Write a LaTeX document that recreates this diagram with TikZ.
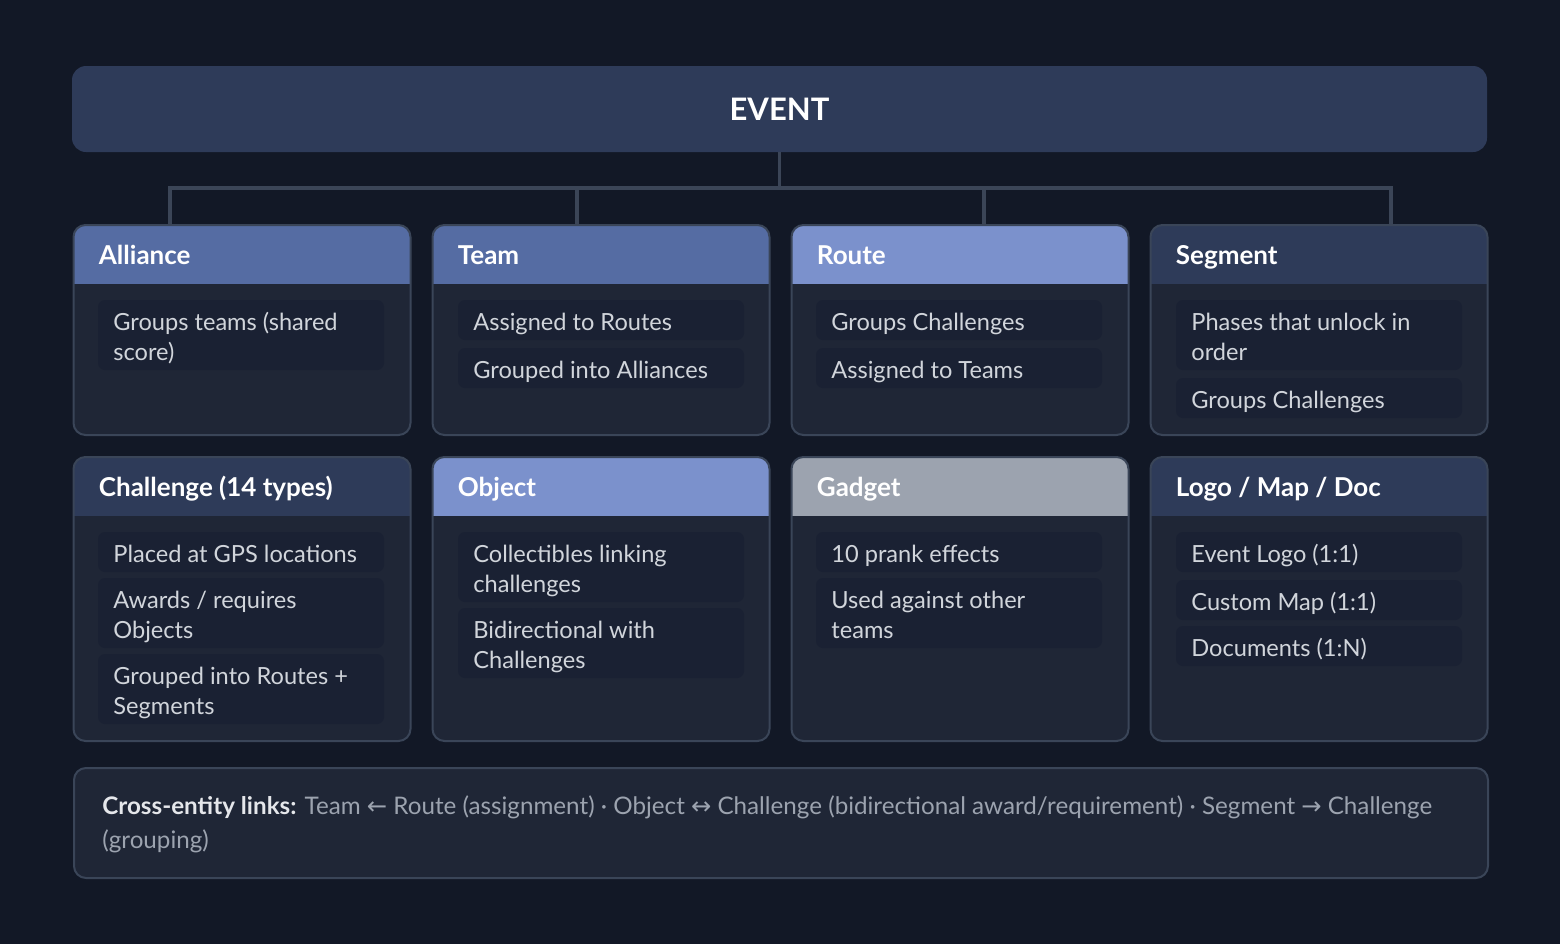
\documentclass[tikz,border=0pt]{standalone}
\usepackage{fontspec}
\setmainfont{Lato}
\newfontfamily\symf{DejaVu Sans}
\definecolor{bg}{HTML}{121826}
\definecolor{eventc}{HTML}{2E3B59}
\definecolor{hdmid}{HTML}{556CA3}
\definecolor{hdlight}{HTML}{7B91CC}
\definecolor{hdgray}{HTML}{9CA3AF}
\definecolor{hddark}{HTML}{2E3B59}
\definecolor{bodyc}{HTML}{1F2636}
\definecolor{itemc}{HTML}{1A2133}
\definecolor{borderc}{HTML}{3A4558}
\definecolor{connc}{HTML}{3B4557}
\definecolor{itemtext}{HTML}{D1D5DB}
\definecolor{linkgray}{HTML}{9CA3AF}
\definecolor{linkbold}{HTML}{E5E7EB}
\tikzset{
  cardbox/.style={fill=bodyc, rounded corners=6pt, inner sep=0pt, outer sep=0pt, minimum width=168.5pt},
  cardline/.style={draw=borderc, line width=1pt, rounded corners=6pt},
  headtext/.style={text=white, font=\bfseries\fontsize{13}{15}\selectfont, inner sep=0pt, anchor=base west},
  itembg/.style={fill=itemc, rounded corners=3.5pt, inner sep=0pt, outer sep=0pt,
    minimum width=143pt, anchor=north west},
  itemtxt/.style={inner sep=0pt, align=left, anchor=north west, text=itemtext,
    font=\fontsize{11.8}{15}\selectfont},
  conn/.style={draw=connc, line width=1.6pt},
}
\newcommand\mkcard[6]{%
  \node[cardbox, minimum height=#4] (#1) at (#2,#3) {};
  \begin{scope}
    \clip[rounded corners=6pt] (#1.north west) rectangle (#1.south east);
    \fill[#5] (#1.north west) rectangle ([yshift=-29.5pt]#1.north east);
  \end{scope}
  \draw[cardline] (#1.north west) rectangle (#1.south east);
  \node[headtext] (#1-t) at ([xshift=12.5pt,yshift=-19.5pt]#1.north west) {#6};
}
\newcommand\itm[5]{%
  \node[itembg, minimum height=#4] (#1) at (#2,#3) {};
  \node[itemtxt] (#1-t) at ([xshift=7.5pt,yshift=-4.5pt]#1.north west) {\strut #5};
}
\begin{document}
\begin{tikzpicture}[x=0.5pt,y=-0.5pt]
\fill[bg] (0,0) rectangle (1560,944);
\useasboundingbox (0,0) rectangle (1560,944);

% EVENT
\node[fill=eventc, rounded corners=7pt, minimum width=707.5pt, minimum height=43pt, inner sep=0pt, outer sep=0pt,
  text=white, font=\bfseries\fontsize{15.5}{18}\selectfont] (event) at (779.5,109) {\raisebox{-1pt}{EVENT}};

% cards row 1
\mkcard{alliance}{242}{330}{105pt}{hdmid}{Alliance}
\mkcard{team}{601}{330}{105pt}{hdmid}{Team}
\mkcard{route}{960}{330}{105pt}{hdlight}{Route}
\mkcard{segment}{1319}{330}{105pt}{hddark}{Segment}
% cards row 2
\mkcard{challenge}{242}{599}{142pt}{hddark}{Challenge (14 types)}
\mkcard{object}{601}{599}{142pt}{hdlight}{Object}
\mkcard{gadget}{960}{599}{142pt}{hdgray}{Gadget}
\mkcard{logo}{1319}{599}{142pt}{hddark}{Logo / Map / Doc}

% connectors
\coordinate (b1) at (170,188);
\coordinate (b2) at (577,188);
\coordinate (b3) at (984,188);
\coordinate (b4) at (1391,188);
\draw[conn] (event.south) -- (event.south |- b1);
\draw[conn] ([xshift=-0.8pt]b1) -- ([xshift=0.8pt]b4);
\draw[conn] (b1) -- (b1 |- alliance.north);
\draw[conn] (b2) -- (b2 |- team.north);
\draw[conn] (b3) -- (b3 |- route.north);
\draw[conn] (b4) -- (b4 |- segment.north);

% items row 1
\itm{al1}{98}{300}{35pt}{Groups teams (shared\\score)}
\itm{te1}{458}{300}{20pt}{Assigned to Routes}
\itm{te2}{458}{348}{20pt}{Grouped into Alliances}
\itm{ro1}{816}{300}{20pt}{Groups Challenges}
\itm{ro2}{816}{348}{20pt}{Assigned to Teams}
\itm{se1}{1176}{300}{35pt}{Phases that unlock in\\order}
\itm{se2}{1176}{378}{20pt}{Groups Challenges}
% items row 2
\itm{ch1}{98}{532}{20pt}{Placed at GPS locations}
\itm{ch2}{98}{578}{35pt}{Awards / requires\\Objects}
\itm{ch3}{98}{654}{35pt}{Grouped into Routes +\\Segments}
\itm{ob1}{458}{532}{35pt}{Collectibles linking\\challenges}
\itm{ob2}{458}{608}{35pt}{Bidirectional with\\Challenges}
\itm{ga1}{816}{532}{20pt}{10 prank effects}
\itm{ga2}{816}{578}{35pt}{Used against other\\teams}
\itm{lo1}{1176}{532}{20pt}{Event Logo (1:1)}
\itm{lo2}{1176}{580}{20pt}{Custom Map (1:1)}
\itm{lo3}{1176}{626}{20pt}{Documents (1:N)}

% bottom links box
\node[fill=bodyc, draw=borderc, line width=1pt, rounded corners=6pt, anchor=north west,
  minimum width=707pt, minimum height=55pt, inner sep=0pt] (links) at (73,767) {};
\node[inner sep=0pt, anchor=north west, align=left, text=linkgray, font=\fontsize{12.1}{17}\selectfont] (links-t)
  at ([xshift=14.5pt,yshift=-11.6pt]links.north west)
  {\strut{\color{linkbold}\bfseries Cross-entity links:} Team {\symf ←} Route (assignment) · Object {\symf ↔} Challenge (bidirectional award/requirement) · Segment {\symf →} Challenge\\(grouping)};
\end{tikzpicture}
\end{document}
